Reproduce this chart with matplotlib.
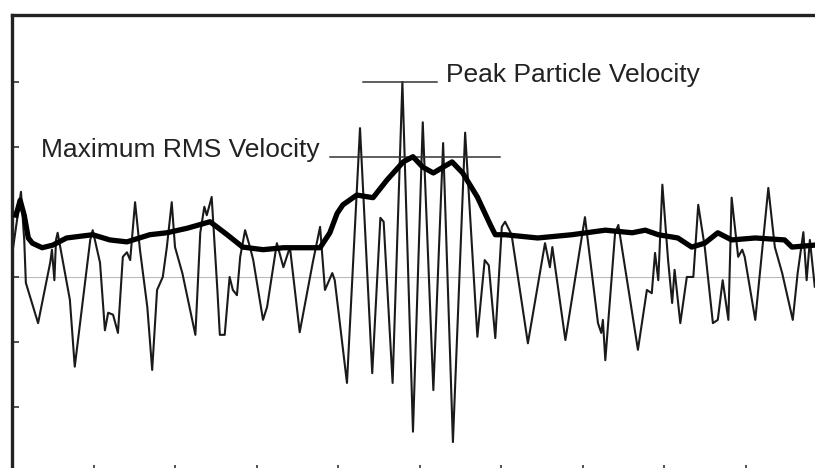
import numpy as np
import matplotlib
matplotlib.use("Agg")
import matplotlib.pyplot as plt

# Particle velocity trace (time in tick units, velocity in tick units)
vel_t = [0.01, 0.07, 0.11, 0.15, 0.17, 0.32, 0.47, 0.49, 0.52, 0.54, 0.56, 0.71,
         0.77, 0.96, 0.99, 1.08, 1.14, 1.18, 1.24, 1.30, 1.36, 1.41, 1.45, 1.51,
         1.57, 1.66, 1.72, 1.78, 1.85, 1.90, 1.96, 2.00, 2.09, 2.25, 2.31, 2.36,
         2.39, 2.45, 2.52, 2.55, 2.61, 2.67, 2.71, 2.76, 2.80, 2.86, 2.92, 2.96,
         3.08, 3.13, 3.25, 3.33, 3.41, 3.53, 3.69, 3.78, 3.84, 3.93, 3.96, 4.11,
         4.27, 4.42, 4.52, 4.56, 4.67, 4.79, 4.92, 5.04, 5.17, 5.29, 5.41, 5.56,
         5.71, 5.80, 5.85, 5.93, 6.01, 6.05, 6.13, 6.33, 6.54, 6.60, 6.63, 6.79,
         7.03, 7.19, 7.23, 7.25, 7.28, 7.40, 7.44, 7.68, 7.79, 7.85, 7.89, 7.93,
         7.98, 8.05, 8.10, 8.13, 8.20, 8.28, 8.36, 8.42, 8.50, 8.60, 8.66, 8.72,
         8.79, 8.83, 8.91, 8.96, 8.99, 9.12, 9.28, 9.36, 9.45, 9.58, 9.64, 9.71,
         9.75, 9.79, 9.85]
vel_v = [0.42, 0.95, 1.31, 0.57, -0.09, -0.71, 0.23, 0.42, -0.05, 0.57, 0.68, -0.35,
         -1.38, 0.57, 0.72, 0.22, -0.82, -0.55, -0.58, -0.86, 0.31, 0.38, 0.26, 1.15,
         0.42, -0.46, -1.43, -0.20, 0.00, 0.46, 1.15, 0.46, 0.06, -0.89, 0.68, 1.08,
         0.95, 1.23, -0.20, -0.89, -0.89, 0.00, -0.20, -0.28, 0.31, 0.72, 0.46, 0.26,
         -0.66, -0.46, 0.52, 0.15, 0.46, -0.85, 0.22, 0.77, -0.20, 0.06, -0.05, -1.63,
         2.29, -1.48, 0.91, 0.85, -1.63, 3.00, -2.38, 2.38, -1.74, 2.06, -2.54, 2.22,
         -0.92, 0.26, 0.18, -0.94, 0.77, 0.85, 0.65, -1.02, 0.52, 0.15, 0.46, -0.97,
         0.92, -0.71, -0.86, -0.66, -1.28, 0.68, 0.80, -1.12, -0.20, -0.25, 0.37, -0.05,
         1.42, 0.26, -0.40, 0.11, -0.71, 0.00, 0.00, 1.11, 0.46, -0.71, -0.66, -0.05,
         -0.66, 1.22, 0.31, 0.42, 0.31, -0.66, 1.37, 0.46, 0.06, -0.66, 0.06, 0.69,
         -0.05, 0.57, -0.15]

# Running RMS velocity
rms_t = [0.05, 0.10, 0.15, 0.20, 0.25, 0.37, 0.50, 0.67, 0.99, 1.20, 1.41, 1.69,
         1.90, 2.15, 2.43, 2.64, 2.83, 3.08, 3.33, 3.78, 3.90, 3.99, 4.06, 4.23,
         4.43, 4.60, 4.80, 4.92, 5.04, 5.17, 5.29, 5.40, 5.53, 5.71, 5.87, 5.93,
         6.05, 6.45, 6.87, 7.28, 7.61, 7.77, 7.93, 8.17, 8.34, 8.50, 8.66, 8.83,
         9.12, 9.48, 9.57, 9.85]
rms_v = [0.95, 1.18, 0.95, 0.60, 0.52, 0.45, 0.49, 0.60, 0.65, 0.57, 0.54, 0.65,
         0.68, 0.75, 0.85, 0.65, 0.46, 0.42, 0.45, 0.45, 0.68, 0.98, 1.11, 1.26,
         1.22, 1.49, 1.77, 1.85, 1.69, 1.60, 1.69, 1.77, 1.60, 1.23, 0.80, 0.65,
         0.65, 0.60, 0.65, 0.72, 0.68, 0.72, 0.65, 0.60, 0.46, 0.52, 0.68, 0.57,
         0.60, 0.57, 0.46, 0.49]

peak_level = 3.00
rms_level = 1.85

fig = plt.figure(figsize=(8.15, 4.68), dpi=100)
ax = fig.add_axes([12 / 815, -4 / 468, 1.0, 457 / 468])

ax.axhline(0, color="#bbbbbb", linewidth=0.8, zorder=1)
ax.plot(vel_t, vel_v, color="#1a1a1a", linewidth=1.5, zorder=2)
ax.plot(rms_t, rms_v, color="black", linewidth=3.8, solid_joinstyle="round", zorder=3)

# annotation rules and labels
ax.plot([4.31, 5.21], [peak_level, peak_level], color="#333333", linewidth=1.1)
ax.plot([3.90, 5.99], [rms_level, rms_level], color="#333333", linewidth=1.1)
ax.text(5.32, peak_level, "Peak Particle Velocity", fontsize=19,
        family="Liberation Sans", color="#222222", va="baseline", ha="left")
ax.text(0.35, rms_level, "Maximum RMS Velocity", fontsize=19,
        family="Liberation Sans", color="#222222", va="baseline", ha="left")

ax.set_xlim(0, 10)
ax.set_ylim(-3.0, 4.03)
ax.set_xticks(range(1, 10))
ax.set_yticks([-2, -1, 0, 1, 2, 3])
ax.tick_params(direction="in", length=5, width=1.2, labelbottom=False,
               labelleft=False, colors="#333333")
for side in ["left", "top", "bottom"]:
    ax.spines[side].set_linewidth(2.4)
    ax.spines[side].set_color("#222222")
ax.spines["right"].set_visible(False)

fig.savefig("out.png", dpi=100, facecolor="white")
